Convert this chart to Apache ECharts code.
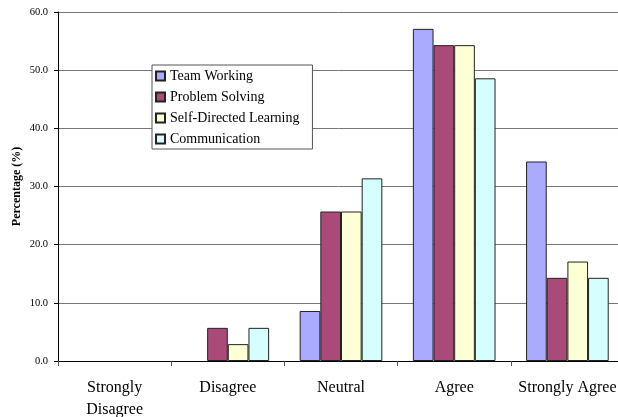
<!DOCTYPE html>
<html>
<head>
<meta charset="utf-8">
<script src="https://cdn.jsdelivr.net/npm/echarts@6/dist/echarts.min.js"></script>
<style>html,body{margin:0;padding:0;background:#fff}#c{width:618px;height:417px}</style>
</head>
<body>
<div id="c"></div>
<script>
var categories = ['Strongly\nDisagree', 'Disagree', 'Neutral', 'Agree', 'Strongly Agree'];
var seriesNames = ['Team Working', 'Problem Solving', 'Self-Directed Learning', 'Communication'];
var teamWorking = [0, 0, 8.6, 57.1, 34.3];
var problemSolving = [0, 5.7, 25.7, 54.3, 14.3];
var selfDirected = [0, 2.9, 25.7, 54.3, 17.1];
var communication = [0, 5.7, 31.4, 48.6, 14.3];
var colors = ['#aaaaff', '#aa4a78', '#ffffd5', '#d5ffff'];
var yTicks = {min: 0, max: 60, interval: 10};

var dataSets = [teamWorking, problemSolving, selfDirected, communication];
var font = '"Liberation Serif", "Times New Roman", serif';
var chart = echarts.init(document.getElementById('c'), null, {renderer: 'canvas'});
chart.setOption({
  animation: false,
  backgroundColor: '#fff',
  grid: {left: 58, right: -6, top: 12, bottom: 56, containLabel: false, outerBoundsMode: 'none'},
  legend: {
    orient: 'vertical', left: 152, top: 65,
    backgroundColor: '#fff', borderColor: '#555', borderWidth: 1,
    padding: [4, 13, 3, 3],
    itemWidth: 9, itemHeight: 9, itemGap: 7,
    icon: 'rect',
    textStyle: {fontFamily: font, fontSize: 14, color: '#000', lineHeight: 14},
    data: seriesNames
  },
  xAxis: {
    type: 'category', data: categories,
    axisLine: {lineStyle: {color: '#000', width: 1}},
    axisTick: {show: true, length: 5, lineStyle: {color: '#555'}},
    axisLabel: {fontFamily: font, fontSize: 16, color: '#000', lineHeight: 22, margin: 16, interval: 0}
  },
  yAxis: {
    type: 'value', min: yTicks.min, max: yTicks.max, interval: yTicks.interval,
    name: 'Percentage (%)', nameLocation: 'middle', nameGap: 35, nameRotate: 90,
    nameMoveOverlap: false,
    nameTextStyle: {fontFamily: font, fontSize: 12, fontWeight: 'bold', color: '#000'},
    axisLine: {show: true, lineStyle: {color: '#000', width: 1}},
    axisTick: {show: true, length: 4, lineStyle: {color: '#000'}},
    axisLabel: {fontFamily: font, fontSize: 10.5, color: '#000', margin: 10,
      formatter: function (v) { return v.toFixed(1); }},
    splitLine: {show: true, lineStyle: {color: '#777', width: 1}}
  },
  series: dataSets.map(function (d, i) {
    return {
      name: seriesNames[i], type: 'bar',
      data: d.map(function (v) {
        return v === 0 ? {value: v, itemStyle: {borderWidth: 0}} : v;
      }),
      barGap: '0%', barCategoryGap: '27%',
      itemStyle: {color: colors[i], borderColor: '#222', borderWidth: 1}
    };
  })
});
</script>
</body>
</html>
